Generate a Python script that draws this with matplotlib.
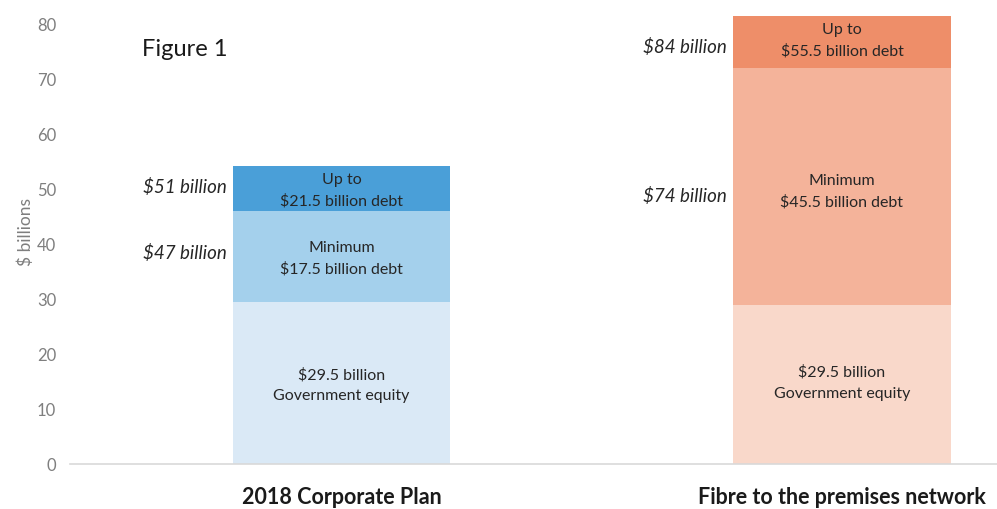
import matplotlib
matplotlib.use("Agg")
import matplotlib.pyplot as plt
import numpy as np

plt.rcParams['font.family'] = ['Lato', 'DejaVu Sans']

categories = ["2018 Corporate Plan", "Fibre to the premises network"]
equity = [29.4, 28.7]
minimum_debt = [16.5, 43.1]
upto_debt = [8.1, 9.4]

equity_labels = ["$29.5 billion\nGovernment equity", "$29.5 billion\nGovernment equity"]
minimum_labels = ["Minimum\n$17.5 billion debt", "Minimum\n$45.5 billion debt"]
upto_labels = ["Up to\n$21.5 billion debt", "Up to\n$55.5 billion debt"]
total_labels_top = ["$51 billion", "$84 billion"]
total_labels_mid = ["$47 billion", "$74 billion"]

colors = [
    ["#DAE9F6", "#A4D0EC", "#4A9FD8"],
    ["#F9D8CA", "#F4B39A", "#EE8E69"],
]

fig = plt.figure(figsize=(9.97, 5.10), dpi=100)
ax = fig.add_axes([70/997, (510-464.5)/510, 1 - 70/997, 464.5/510])

x = np.arange(len(categories))
width = 0.435
for i in range(len(categories)):
    ax.bar(x[i], equity[i], width, color=colors[i][0], zorder=2)
    ax.bar(x[i], minimum_debt[i], width, bottom=equity[i], color=colors[i][1], zorder=2)
    ax.bar(x[i], upto_debt[i], width, bottom=equity[i] + minimum_debt[i], color=colors[i][2], zorder=2)

# in-bar labels
eq_y = [14.4, 14.8]
mid_y = [37.3, 49.6]
top_y = [49.7, 77.0]
for i in range(len(categories)):
    for yy, lab in ((eq_y[i], equity_labels[i]), (mid_y[i], minimum_labels[i]), (top_y[i], upto_labels[i])):
        ax.text(x[i], yy, lab, ha='center', va='center', fontsize=11.5,
                color='#262626', linespacing=1.6)

# side italic labels
side_top_y = [50.4, 75.8]
side_mid_y = [38.4, 48.8]
for i in range(len(categories)):
    ax.text(x[i] - width/2 - 0.012, side_top_y[i], total_labels_top[i], ha='right', va='center',
            fontsize=13.5, style='italic', color='#262626')
    ax.text(x[i] - width/2 - 0.012, side_mid_y[i], total_labels_mid[i], ha='right', va='center',
            fontsize=13.5, style='italic', color='#262626')

ax.text(142/997, 1 - 50/510, "Figure 1", transform=fig.transFigure, ha='left', va='center',
        fontsize=17, color='#1a1a1a')

spacing_px = 500.5
ax.set_xlim(-271.5/spacing_px, 1 + (997-842)/spacing_px)
ax.set_ylim(0, 464.5/5.506)
ax.set_yticks(np.arange(0, 81, 10))
ax.set_xticks(x)
ax.set_xticklabels(categories, fontsize=15.5, fontweight='bold', color='#1a1a1a')
ax.tick_params(axis='x', length=0, pad=16)
ax.tick_params(axis='y', length=0, pad=10, labelsize=12, labelcolor='#7F7F7F')
ax.set_ylabel("$ billions", fontsize=12.5, color='#7F7F7F', labelpad=2)

for s in ['top', 'right', 'left']:
    ax.spines[s].set_visible(False)
ax.spines['bottom'].set_color('#D9D9D9')
ax.spines['bottom'].set_linewidth(1.2)

fig.savefig("out.png", dpi=100)
